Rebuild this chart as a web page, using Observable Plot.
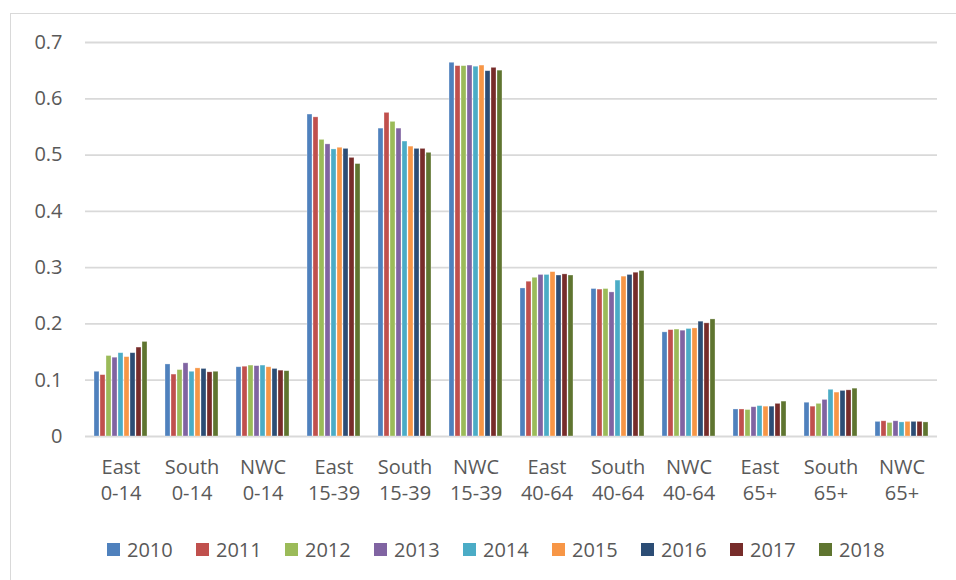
<!DOCTYPE html>
<html>
<head>
<meta charset="utf-8">
<script src="https://cdn.jsdelivr.net/npm/d3@7"></script>
<script src="https://cdn.jsdelivr.net/npm/@observablehq/plot@0.6"></script>
<style>
  html, body { margin: 0; padding: 0; background: #fff; }
  #wrap { position: relative; width: 956px; height: 580px; overflow: hidden; font-family: "Open Sans", sans-serif; color: #595959; }
  #frame { position: absolute; left: 10px; top: 13px; width: 980px; height: 620px; border: 1.5px solid #d9d9d9; box-sizing: border-box; }
  #chart { position: absolute; left: 0; top: 0; }
  #legend { position: absolute; left: 107px; top: 536px; height: 26px; display: flex; align-items: center; font-size: 20px; }
  .item { display: flex; align-items: center; width: 89px; }
  .sw { width: 13px; height: 13px; margin-right: 7px; }
</style>
</head>
<body>
<div id="wrap">
  <div id="frame"></div>
  <div id="chart"></div>
  <div id="legend"></div>
</div>
<script>
// Categories (region + age band)
const categories = [
  "East\n0-14", "South\n0-14", "NWC\n0-14",
  "East\n15-39", "South\n15-39", "NWC\n15-39",
  "East\n40-64", "South\n40-64", "NWC\n40-64",
  "East\n65+", "South\n65+", "NWC\n65+"
];
const years = ["2010", "2011", "2012", "2013", "2014", "2015", "2016", "2017", "2018"];
const colors = ["#4F81BD", "#C0504D", "#9BBB59", "#8064A2", "#4BACC6", "#F79646", "#2C4D75", "#772C2A", "#5F7530"];
const yTicks = [0, 0.1, 0.2, 0.3, 0.4, 0.5, 0.6, 0.7];

// Series values (one array per year, in category order)
const v2010 = [0.115, 0.128, 0.123, 0.572, 0.547, 0.664, 0.263, 0.262, 0.185, 0.048, 0.060, 0.026];
const v2011 = [0.109, 0.110, 0.124, 0.567, 0.575, 0.658, 0.275, 0.261, 0.189, 0.048, 0.053, 0.027];
const v2012 = [0.143, 0.118, 0.126, 0.527, 0.559, 0.658, 0.282, 0.262, 0.190, 0.047, 0.058, 0.024];
const v2013 = [0.140, 0.130, 0.125, 0.519, 0.547, 0.659, 0.287, 0.256, 0.188, 0.052, 0.065, 0.027];
const v2014 = [0.148, 0.115, 0.126, 0.510, 0.524, 0.657, 0.287, 0.277, 0.191, 0.054, 0.083, 0.025];
const v2015 = [0.141, 0.121, 0.123, 0.513, 0.515, 0.659, 0.292, 0.284, 0.192, 0.053, 0.078, 0.026];
const v2016 = [0.148, 0.120, 0.120, 0.511, 0.511, 0.649, 0.286, 0.287, 0.204, 0.053, 0.081, 0.026];
const v2017 = [0.158, 0.114, 0.117, 0.495, 0.511, 0.655, 0.288, 0.291, 0.201, 0.058, 0.082, 0.026];
const v2018 = [0.168, 0.115, 0.116, 0.484, 0.504, 0.650, 0.286, 0.294, 0.208, 0.062, 0.085, 0.025];
const series = [v2010, v2011, v2012, v2013, v2014, v2015, v2016, v2017, v2018];

const data = years.flatMap((yr, j) => series[j].map((v, i) => ({group: categories[i], year: yr, value: v})));

const chart = Plot.plot({
  width: 956,
  height: 520,
  marginLeft: 80,
  marginRight: 15,
  marginTop: 42,
  marginBottom: 84,
  style: {fontFamily: "Open Sans, sans-serif", color: "#595959", background: "transparent"},
  fx: {domain: categories, paddingInner: 0, paddingOuter: 0, axis: null},
  x: {domain: years, paddingInner: 0.15, paddingOuter: 0.95, axis: null},
  y: {domain: [0, 0.7], axis: null},
  color: {domain: years, range: colors},
  marks: [
    Plot.gridY(yTicks, {stroke: "#d9d9d9", strokeOpacity: 1, strokeWidth: 1.8}),
    Plot.barY(data, {fx: "group", x: "year", y: "value", fill: "year", stroke: "#ffffff", strokeOpacity: 0.45, strokeWidth: 0.7}),
    Plot.axisY({ticks: yTicks, tickSize: 0, tickPadding: 23, fontSize: 20, label: null,
      tickFormat: d => d === 0 ? "0" : d.toFixed(1)}),
    Plot.axisFx({anchor: "bottom", tickSize: 0, tickPadding: 19, fontSize: 20, lineHeight: 1.3, label: null,
      tickFormat: d => d})
  ]
});
document.getElementById("chart").appendChild(chart);

const legend = document.getElementById("legend");
years.forEach((yr, j) => {
  const item = document.createElement("div");
  item.className = "item";
  const sw = document.createElement("span");
  sw.className = "sw";
  sw.style.background = colors[j];
  const t = document.createElement("span");
  t.textContent = yr;
  item.appendChild(sw);
  item.appendChild(t);
  legend.appendChild(item);
});
</script>
</body>
</html>
